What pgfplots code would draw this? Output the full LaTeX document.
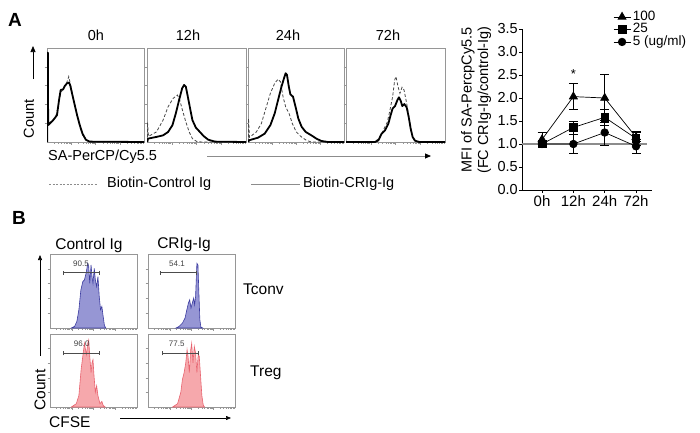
\documentclass[border=0pt]{standalone}
\usepackage{fontspec}
\setmainfont{Liberation Sans}
\usepackage{pgfplots}
\pgfplotsset{compat=1.18}
\usetikzlibrary{arrows.meta}

\definecolor{framegray}{RGB}{150,150,150}
\definecolor{dashgray}{RGB}{70,70,70}
\definecolor{bluefill}{RGB}{150,150,212}
\definecolor{blueline}{RGB}{60,60,160}
\definecolor{redfill}{RGB}{246,168,172}
\definecolor{redline}{RGB}{232,100,112}
\definecolor{refgray}{RGB}{140,140,140}

\newcommand{\fsz}[1]{\fontsize{#1}{#1}\selectfont}

\tikzset{gate/.style={black!70, line width=0.6pt, {Bar[width=4pt]}-{Bar[width=4pt]}}}

\pgfplotsset{
  histbox/.style={
    scale only axis, anchor=north west,
    xmin=0, xmax=100, ymin=0, ymax=100,
    axis line style={framegray, line width=0.6pt},
    xtick={25,50,75}, ytick={20,40,60,80},
    minor xtick={7.5,11.9,15.1,17.5,19.5,21.1,22.6,23.9,
      32.5,36.9,40.1,42.5,44.5,46.1,47.6,48.9,
      57.5,61.9,65.1,67.5,69.5,71.1,72.6,73.9,
      82.5,86.9,90.1,92.5,94.5,96.1,97.6,98.9},
    xticklabels={}, yticklabels={},
    xtick pos=bottom, ytick pos=left,
    tick align=outside, major tick length=2.5pt, minor tick length=1.5pt,
    every tick/.style={framegray, line width=0.4pt},
  },
  solidh/.style={black, line width=1.8pt, line join=round},
  dashh/.style={dashgray, line width=0.8pt, dash pattern=on 3pt off 2pt},
  blueh/.style={fill=bluefill, draw=blueline, line width=0.6pt},
  redh/.style={fill=redfill, draw=redline, line width=0.6pt},
}

\begin{document}
\begin{tikzpicture}[x=1pt,y=1pt]
\path[use as bounding box] (0,0) rectangle (700,-432);

% ---------------- Panel A: histograms ----------------
\node[font=\fsz{19}\bfseries] at (15,-20) {A};

% 0h
\begin{axis}[histbox, at={(47pt,-48pt)}, width=97pt, height=94pt]
\addplot[dashh] coordinates {
  (0,0) (0.5,20) (5,22) (9,27) (12,40) (14,52) (17,57) (20,62) (22.4,69.6)
  (24.5,60) (26.5,49) (29,38) (31.5,27) (34,16) (37,7) (41,1.5) (45,0) (100,0)
};
\addplot[solidh] coordinates {
  (0.3,0) (0.3,95) (0.9,95) (1.2,18) (6.2,23) (10.3,28.6) (12.4,44.6) (14.1,55.4)
  (16.6,56) (18.3,59.6) (20.7,62.5) (22.8,63.2) (24.1,59.6) (26.2,50) (28.6,39.3)
  (31,28.6) (33.8,17.9) (36.6,8.9) (40,2.5) (44,0.4) (100,0)
};
\end{axis}

% 12h
\begin{axis}[histbox, at={(147pt,-48pt)}, width=99pt, height=94pt]
\addplot[dashh] coordinates {
  (0.4,0) (0.5,21) (1.5,6) (9.5,10.7) (16.2,23.2) (21.3,37.5) (26.4,46.4)
  (30.7,50) (33.1,44.6) (35.8,33.9) (39.2,21.4) (42.6,10.7) (45.9,3.6)
  (50,0.7) (55,0) (100,0)
};
\addplot[solidh] coordinates {
  (0.3,0) (1,3.6) (9.5,5.4) (16.2,7.1) (21.3,10.7) (25.7,17.9) (29.1,30.4)
  (32.4,44.6) (35.5,57.1) (37.5,60.7) (39.2,58.9) (40.9,50) (43.2,37.5)
  (45.9,23.2) (49.3,15.4) (53.4,10.7) (57.4,6.1) (61.8,2.5) (68.6,0.4) (100,0)
};
\end{axis}

% 24h
\begin{axis}[histbox, at={(248pt,-48pt)}, width=96pt, height=94pt]
\addplot[dashh] coordinates {
  (0.4,0) (0.5,25) (1.5,5) (8.7,10.7) (13.9,19.6) (19.1,37.5) (23.3,51.8)
  (27.8,62.5) (31.3,66.8) (33.7,64.3) (36.5,48.2) (39.2,37.5) (42.7,30.4)
  (46.2,19.6) (50.3,10.7) (55.6,5.4) (60.8,1.8) (66,0) (100,0)
};
\addplot[solidh] coordinates {
  (0.3,0) (1,1.8) (10.4,4.6) (17.4,8.9) (23.3,17.9) (27.8,30.4) (31.3,44.6)
  (34.7,58.2) (37.2,66.8) (39.2,73.2) (40.6,71.4) (42.4,59.6) (44.1,50.7)
  (46.9,48.2) (49.7,36.8) (52.4,25) (55.9,16.1) (60.1,10.7) (66,7.1)
  (71.2,3.6) (76.4,1.1) (83.3,0) (100,0)
};
\end{axis}

% 72h
\begin{axis}[histbox, at={(346pt,-48pt)}, width=99pt, height=94pt]
\addplot[dashh] coordinates {
  (0,0) (29.3,0) (34.3,5.4) (37.7,12.5) (41.8,21.4) (44.4,33.9) (47.1,48.2)
  (49.2,66.1) (50.5,69.6) (52.5,58.9) (54.5,51.8) (56.6,58.2) (58.6,55.4)
  (61.3,41.1) (64,23.2) (66.3,8.9) (69,1.8) (73,0) (100,0)
};
\addplot[solidh] coordinates {
  (0,0) (29.3,0) (32.7,1.8) (36,8.9) (39.4,12.5) (42.8,19.6) (45.1,28.6)
  (47.1,35.7) (49.5,38.2) (51.9,44.6) (53.5,47.5) (55.2,43.9) (56.9,38.2)
  (58.9,40.4) (61.3,36.8) (63.3,26.8) (65.3,14.3) (67.3,5.4) (69.7,1.4)
  (74.1,0) (100,0)
};
\end{axis}

\begin{scope}[font=\fsz{14.5}]
\node at (96,-35) {0h};
\node at (188,-35) {12h};
\node at (288,-35) {24h};
\node at (388,-35) {72h};
\node[rotate=90] at (29,-119) {Count};
\draw[black, line width=0.7pt, -{Triangle[length=6pt,width=5pt]}] (33,-79) -- (33,-46);
\node[anchor=west, inner sep=0pt] at (48,-157) {SA-PerCP/Cy5.5};
\draw[refgray, line width=0.8pt, -{Triangle[black,length=6pt,width=5pt]}] (207,-156) -- (431,-156);
\draw[refgray, line width=0.7pt, dash pattern=on 2pt off 1.5pt] (49,-184) -- (98,-184);
\node[anchor=west, inner sep=0pt] at (107,-184) {Biotin-Control Ig};
\draw[refgray, line width=0.8pt] (251,-184) -- (300,-184);
\node[anchor=west, inner sep=0pt] at (303,-184) {Biotin-CRIg-Ig};
\end{scope}

% ---------------- Panel A: MFI line chart ----------------
\begin{axis}[
  at={(522pt,-29pt)}, anchor=north west, scale only axis,
  width=130pt, height=161pt,
  xmin=-0.64, xmax=3.51, ymin=0, ymax=3.5,
  axis x line*=bottom, axis y line*=left,
  axis line style={black, line width=0.7pt},
  xtick={0,1,2,3}, xticklabels={0h,12h,24h,72h},
  ytick={0,0.5,1,1.5,2,2.5,3,3.5},
  yticklabel style={/pgf/number format/fixed, /pgf/number format/fixed zerofill,
    /pgf/number format/precision=1},
  /pgf/number format/assume math mode=true,
  tick align=outside, major tick length=3pt,
  every tick/.style={black, line width=0.7pt},
  xticklabel style={font=\fsz{15}, inner sep=2pt},
  yticklabel style={font=\fsz{14.5}, inner sep=1pt},
  clip=false,
  legend image code/.code={
    \draw[mark repeat=2, mark phase=2, #1] plot coordinates {(0pt,0pt) (8.5pt,0pt) (17pt,0pt)};
  },
  legend style={
    at={(rel axis cs:0.7,1.115)}, anchor=north west,
    draw=none, fill=none, font=\fsz{13.5},
    row sep=0pt, inner sep=0pt,
    nodes={inner xsep=2pt, inner ysep=0pt, text height=9.5pt, text depth=3pt},
  },
  legend cell align=left,
]
\draw[refgray, line width=1.2pt] (axis cs:-0.64,1) -- (axis cs:3.35,1);

\addplot[black, line width=0.7pt, mark=triangle*, mark size=4.6pt,
  error bars/.cd, y dir=both, y explicit,
  error bar style={line width=0.7pt},
  error mark options={rotate=90, mark size=4.5pt, line width=0.7pt}]
coordinates {
  (0,1.10) +- (0,0.15)
  (1,2.03) +- (0,0.28)
  (2,2.00) +- (0,0.52)
  (3,1.15) +- (0,0.10)
};
\addplot[black, line width=0.7pt, mark=square*, mark size=3.8pt,
  error bars/.cd, y dir=both, y explicit,
  error bar style={line width=0.7pt},
  error mark options={rotate=90, mark size=4.5pt, line width=0.7pt}]
coordinates {
  (0,1.00) +- (0,0.03)
  (1,1.36) +- (0,0.14)
  (2,1.58) +- (0,0.17)
  (3,1.12) +- (0,0.15)
};
\addplot[black, line width=0.7pt, mark=*, mark size=3.8pt,
  error bars/.cd, y dir=both, y explicit,
  error bar style={line width=0.7pt},
  error mark options={rotate=90, mark size=4.5pt, line width=0.7pt}]
coordinates {
  (0,1.00) +- (0,0.00)
  (1,1.00) +- (0,0.21)
  (2,1.25) +- (0,0.27)
  (3,0.95) +- (0,0.15)
};
\legend{100, 25, 5 (ug/ml)}
\node[font=\fsz{13}] at (axis cs:1,2.52) {*};
\end{axis}

\node[rotate=90, align=center, font=\fsz{14.5}] at (476,-100)
  {MFI of SA-PercpCy5.5\\[2pt](FC CRIg-Ig/control-Ig)};

% ---------------- Panel B ----------------
\node[font=\fsz{19}\bfseries] at (19,-218) {B};

% Tconv, Control Ig
\begin{axis}[histbox, at={(50pt,-254pt)}, width=87pt, height=74pt]
\addplot[blueh] coordinates {
  (24.5,0) (28.3,2.2) (30.9,9) (33.2,24.7) (35.5,51.6) (37.7,62.8) (39.6,65)
  (41.5,74) (43.4,87.4) (44.5,83) (45.7,60.5) (47.2,85.2) (48.3,69.5)
  (49.4,60.5) (50.9,80.7) (52.1,65) (53.6,56) (55.1,69.5) (56.6,42.6)
  (58.1,24.7) (59.6,29.1) (61.1,15.7) (62.6,3.1) (64.2,0)
} \closedcycle;
\draw[gate] (axis cs:14.6,74.7) -- (axis cs:56.7,74.7);
\node[font=\fsz{8}, text=black!75] at (axis cs:35.6,86.5) {90.5};
\end{axis}

% Tconv, CRIg-Ig
\begin{axis}[histbox, at={(148pt,-254pt)}, width=87pt, height=74pt]
\addplot[blueh] coordinates {
  (32.1,0) (35.8,2.2) (39.6,6.7) (42.6,13.5) (44.2,22.4) (46.4,33.6) (47.9,38.1)
  (49.4,26.9) (50.9,33.6) (52.5,40.4) (53.6,31.4) (54.7,42.6) (56.2,87.4)
  (57.4,85.2) (58.5,47.1) (59.6,11.2) (60.8,1.3) (63,0)
} \closedcycle;
\draw[gate] (axis cs:13.8,74.7) -- (axis cs:55.9,74.7);
\node[font=\fsz{8}, text=black!75] at (axis cs:33.3,86.5) {54.1};
\end{axis}

% Treg, Control Ig
\begin{axis}[histbox, at={(50pt,-334pt)}, width=87pt, height=73pt]
\addplot[redh] coordinates {
  (24.5,0) (30.2,4.5) (33.2,15.7) (35.8,51.6) (37.7,69.5) (39.6,87.4)
  (40.8,78.5) (41.9,71.7) (43.4,87.4) (44.5,91.9) (45.7,69.5) (47.2,47.1)
  (48.3,60.5) (49.4,65) (50.6,42.6) (52.1,20.2) (53.6,29.1) (55.1,15.7)
  (57.4,4.5) (59.6,7.6) (61.1,2.2) (63.4,0)
} \closedcycle;
\draw[gate] (axis cs:15.3,73.6) -- (axis cs:57.5,73.6);
\node[font=\fsz{8}, text=black!75] at (axis cs:36.4,86) {96.0};
\end{axis}

% Treg, CRIg-Ig
\begin{axis}[histbox, at={(148pt,-334pt)}, width=87pt, height=73pt]
\addplot[redh] coordinates {
  (28.3,0) (34,4.5) (37.7,20.2) (39.6,38.1) (41.5,47.1) (43.4,60.5) (44.9,78.5)
  (46,69.5) (47.5,47.1) (49.1,78.5) (50.2,87.4) (51.7,60.5) (53.2,83)
  (54.7,74) (56.2,47.1) (57.7,71.7) (58.9,69.5) (60.4,42.6) (61.9,15.7)
  (63.4,3.1) (64.9,0)
} \closedcycle;
\draw[gate] (axis cs:15.7,73.6) -- (axis cs:57.8,73.6);
\node[font=\fsz{8}, text=black!75] at (axis cs:33,86) {77.5};
\end{axis}

\begin{scope}[font=\fsz{15.5}]
\node at (89,-245) {Control Ig};
\node at (184,-245) {CRIg-Ig};
\node[anchor=west, inner sep=0pt] at (243,-289) {Tconv};
\node[anchor=west, inner sep=0pt] at (250,-373) {Treg};
\node[rotate=90] at (40,-390) {Count};
\node[anchor=west, inner sep=0pt] at (49,-422) {CFSE};
\end{scope}
\draw[black, line width=0.6pt, -{Triangle[length=5pt,width=4pt]}] (40,-356) -- (40,-255);
\draw[black, line width=0.6pt, -{Triangle[length=5pt,width=4pt]}] (120,-418) -- (231,-418);

\end{tikzpicture}
\end{document}
